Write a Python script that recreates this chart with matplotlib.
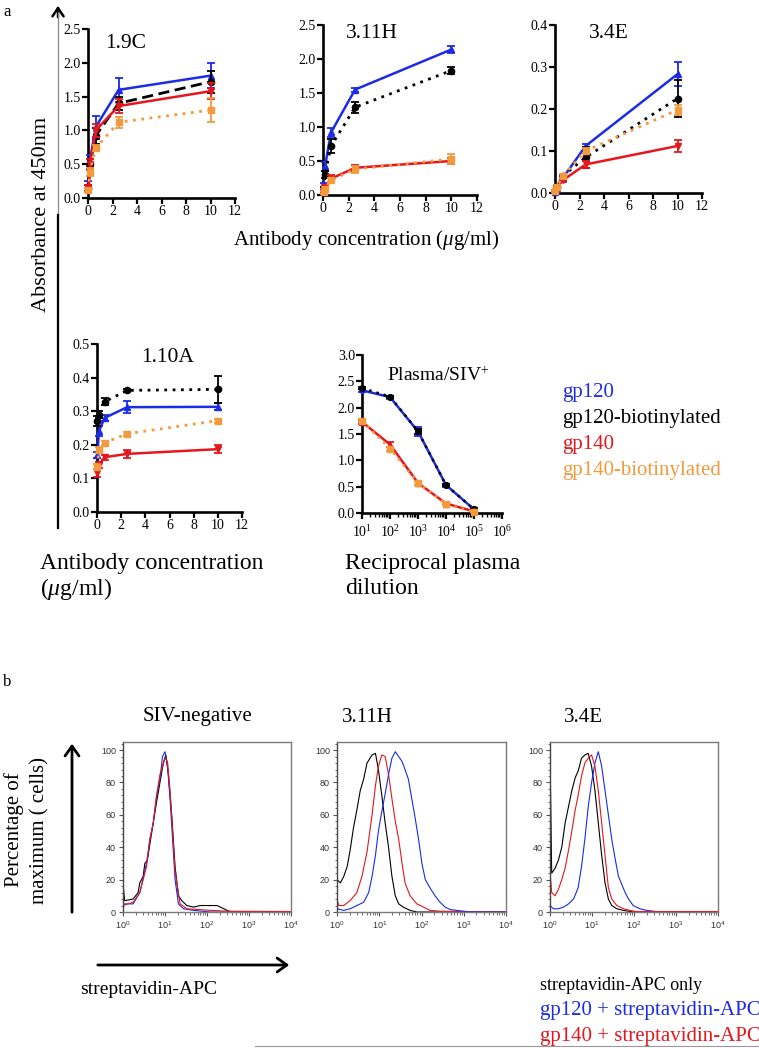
import numpy as np
import matplotlib
matplotlib.use("Agg")
import matplotlib.pyplot as plt
from matplotlib.patches import FancyArrowPatch
from matplotlib.lines import Line2D
from matplotlib.ticker import MultipleLocator, LogLocator, NullFormatter, FixedLocator

plt.rcParams['font.family'] = ['Liberation Serif', 'DejaVu Serif']
plt.rcParams['mathtext.fontset'] = 'custom'
plt.rcParams['mathtext.rm'] = 'Liberation Serif'
plt.rcParams['mathtext.it'] = 'Liberation Serif:italic'
plt.rcParams['mathtext.bf'] = 'Liberation Serif:bold'
plt.rcParams['mathtext.sf'] = 'Liberation Sans'

W, H = 759, 1048

# ---------------- data: panel a (ELISA) ----------------
conc = [0.039, 0.156, 0.625, 2.5, 10]
series_names = ["gp120", "gp120-biotinylated", "gp140", "gp140-biotinylated"]

c19_gp120 = [0.20, 0.55, 1.05, 1.60, 1.81]
c19_gp120_err = [0.05, 0.08, 0.17, 0.18, 0.19]
c19_gp120b = [0.15, 0.50, 0.92, 1.40, 1.72]
c19_gp120b_err = [0.04, 0.07, 0.12, 0.10, 0.16]
c19_gp140 = [0.15, 0.50, 1.00, 1.36, 1.58]
c19_gp140_err = [0.04, 0.08, 0.10, 0.10, 0.12]
c19_gp140b = [0.12, 0.38, 0.74, 1.12, 1.30]
c19_gp140b_err = [0.03, 0.06, 0.05, 0.08, 0.18]

h311_gp120 = [0.15, 0.42, 0.92, 1.55, 2.14]
h311_gp120_err = [0.03, 0.06, 0.07, 0.03, 0.05]
h311_gp120b = [0.10, 0.30, 0.72, 1.29, 1.83]
h311_gp120b_err = [0.02, 0.05, 0.10, 0.08, 0.05]
h311_gp140 = [0.05, 0.12, 0.24, 0.40, 0.50]
h311_gp140_err = [0.02, 0.03, 0.05, 0.04, 0.04]
h311_gp140b = [0.04, 0.09, 0.22, 0.38, 0.53]
h311_gp140b_err = [0.02, 0.03, 0.03, 0.05, 0.08]

e34_gp120 = [0.003, 0.010, 0.035, 0.112, 0.283]
e34_gp120_err = [0.002, 0.004, 0.006, 0.005, 0.028]
e34_gp120b = [0.004, 0.015, 0.040, 0.085, 0.225]
e34_gp120b_err = [0.002, 0.004, 0.005, 0.025, 0.045]
e34_gp140 = [0.004, 0.012, 0.030, 0.068, 0.112]
e34_gp140_err = [0.002, 0.003, 0.004, 0.008, 0.015]
e34_gp140b = [0.005, 0.015, 0.040, 0.100, 0.198]
e34_gp140b_err = [0.002, 0.003, 0.005, 0.008, 0.012]

a110_gp120 = [0.17, 0.24, 0.28, 0.312, 0.313]
a110_gp120_err = [0.010, 0.015, 0.008, 0.018, 0.010]
a110_gp120b = [0.27, 0.29, 0.328, 0.362, 0.365]
a110_gp120b_err = [0.015, 0.010, 0.010, 0.005, 0.040]
a110_gp140 = [0.115, 0.14, 0.163, 0.173, 0.187]
a110_gp140_err = [0.012, 0.010, 0.008, 0.012, 0.012]
a110_gp140b = [0.135, 0.185, 0.206, 0.233, 0.272]
a110_gp140b_err = [0.008, 0.008, 0.006, 0.006, 0.006]

dilution = [1e1, 1e2, 1e3, 1e4, 1e5]
pl_gp120 = [2.33, 2.20, 1.55, 0.53, 0.07]
pl_gp120_err = [0.03, 0.03, 0.08, 0.03, 0.02]
pl_gp120b = [2.37, 2.21, 1.55, 0.53, 0.07]
pl_gp120b_err = [0.02, 0.02, 0.05, 0.02, 0.01]
pl_gp140 = [1.73, 1.30, 0.57, 0.18, 0.03]
pl_gp140_err = [0.04, 0.05, 0.04, 0.03, 0.02]
pl_gp140b = [1.75, 1.22, 0.57, 0.17, 0.02]
pl_gp140b_err = [0.03, 0.04, 0.03, 0.02, 0.01]

# ---------------- data: panel b (flow histograms, log10 of fluorescence, % of max) ----------------
neg_black_log = [0, .04, .24, .36, .40, .48, .52, .58, .64, .72, .80, .88, .96, 1.02, 1.08, 1.16, 1.24, 1.32, 1.40, 1.52, 1.68, 1.84, 2.0, 2.24, 2.4, 2.56, 4.0]
neg_black_val = [17, 7, 8, 12, 18, 22, 30, 32, 42, 55, 68, 80, 92, 97, 85, 60, 28, 10, 7, 4, 3, 4, 4, 4, 2, 0, 0]
neg_blue_log = [0, .02, .24, .40, .56, .64, .72, .80, .88, .94, 1.0, 1.06, 1.12, 1.24, 1.32, 1.44, 1.68, 2.08, 4.0]
neg_blue_val = [0, 5, 5, 12, 30, 45, 55, 72, 82, 96, 99, 90, 70, 20, 5, 2, 1, 0, 0]
neg_red_log = [0, .24, .40, .56, .64, .72, .80, .88, .94, 1.0, 1.06, 1.12, 1.24, 1.36, 1.52, 2.08, 2.48, 4.0]
neg_red_val = [4, 6, 12, 28, 45, 55, 72, 85, 90, 95, 93, 75, 25, 5, 2, 1, 0.5, 0.3]

h_black_log = [0, .08, .16, .24, .31, .39, .47, .55, .63, .71, .83, .91, .98, 1.06, 1.14, 1.22, 1.30, 1.38, 1.46, 1.57, 1.73, 1.89, 4.0]
h_black_val = [20, 18, 22, 28, 38, 52, 63, 75, 82, 92, 97, 98, 88, 72, 55, 40, 22, 10, 5, 3, 1, 0, 0]
h_red_log = [0, .04, .16, .31, .47, .59, .71, .83, .91, .98, 1.06, 1.14, 1.22, 1.30, 1.38, 1.46, 1.54, 1.61, 1.73, 1.89, 2.05, 2.20, 2.44, 4.0]
h_red_val = [8, 4, 4, 7, 12, 22, 37, 60, 78, 90, 97, 96, 85, 70, 56, 45, 30, 18, 10, 5, 3, 1, 0.5, 0]
h_blue_log = [0, .16, .31, .47, .63, .75, .83, .91, .98, 1.06, 1.14, 1.22, 1.30, 1.38, 1.46, 1.54, 1.61, 1.69, 1.77, 1.85, 1.93, 2.01, 2.09, 2.20, 2.32, 2.44, 2.56, 2.68, 2.83, 2.99, 3.15, 4.0]
h_blue_val = [2, 1, 2, 4, 6, 12, 22, 35, 50, 62, 73, 85, 95, 99, 96, 93, 88, 82, 70, 58, 45, 30, 20, 15, 10, 6, 3, 1.5, 1, 0.5, 0, 0]

e_black_log = [0, .04, .12, .20, .28, .36, .44, .52, .60, .67, .75, .83, .91, .99, 1.07, 1.15, 1.23, 1.31, 1.39, 1.47, 1.59, 1.75, 1.98, 4.0]
e_black_val = [100, 24, 27, 32, 40, 55, 65, 75, 83, 87, 95, 97, 98, 90, 75, 55, 35, 18, 8, 4, 2, 1, 0, 0]
e_red_log = [0, .04, .12, .20, .28, .36, .44, .52, .60, .67, .75, .83, .91, .99, 1.07, 1.15, 1.23, 1.31, 1.39, 1.47, 1.59, 1.75, 1.90, 2.06, 4.0]
e_red_val = [25, 12, 10, 14, 20, 27, 38, 50, 63, 72, 84, 92, 95, 97, 90, 75, 55, 35, 15, 8, 4, 2, 1, 0.3, 0.3]
e_blue_log = [0, .08, .20, .32, .44, .56, .67, .75, .83, .91, .99, 1.07, 1.15, 1.23, 1.31, 1.39, 1.47, 1.55, 1.63, 1.71, 1.79, 1.87, 1.98, 2.14, 2.30, 2.46, 2.62, 4.0]
e_blue_val = [4, 2, 2, 3, 5, 8, 15, 28, 45, 65, 80, 92, 99, 90, 75, 60, 45, 33, 22, 17, 12, 8, 4, 2, 1, 0.5, 0, 0]

hist_tick_labels = ['$\\mathsf{10^{0}}$', '$\\mathsf{10^{1}}$', '$\\mathsf{10^{2}}$',
                    '$\\mathsf{10^{3}}$', '$\\mathsf{10^{4}}$']

BLUE = '#1b2be6'
RED = '#e5161d'
ORANGE = '#f29a3c'
BLACK = '#000000'

fig = plt.figure(figsize=(W / 100, H / 100), dpi=100)


def ax_px(x0, y_top, x1, y_bot):
    return fig.add_axes([x0 / W, 1 - y_bot / H, (x1 - x0) / W, (y_bot - y_top) / H])


def ftext(x, y, s, **kw):
    kw.setdefault('va', 'center')
    kw.setdefault('ha', 'left')
    return fig.text(x / W, 1 - y / H, s, **kw)


def fx(x):
    return x / W


def fy(y):
    return 1 - y / H


def style_elisa(ax, ylim, ystep, xlog=False):
    for s in ['top', 'right']:
        ax.spines[s].set_visible(False)
    for s in ['left', 'bottom']:
        ax.spines[s].set_linewidth(1.9)
    ax.tick_params(direction='out', width=1.6, length=4, labelsize=10, pad=1)
    ax.set_ylim(*ylim)
    ax.yaxis.set_major_locator(MultipleLocator(ystep))
    ax.yaxis.set_major_formatter(matplotlib.ticker.FormatStrFormatter('%.1f'))
    if not xlog:
        ax.set_xlim(0, 12)
        ax.xaxis.set_major_locator(MultipleLocator(2))


def draw_series(ax, x, ys, errs, black_ls=(0, (1, 2))):
    specs = [
        (BLUE, '^', '-', 1.8),
        (BLACK, 'o', black_ls, 2.0),
        (RED, 'v', '-', 1.8),
        (ORANGE, 's', (0, (1, 2)), 2.0),
    ]
    for i in [3, 1, 2, 0]:
        c, m, ls, lw = specs[i]
        ax.errorbar(x, ys[i], yerr=errs[i], color=c, marker=m, ls=ls, lw=lw, ms=4.5,
                    capsize=3, elinewidth=1.3, capthick=1.3, clip_on=False, zorder=3 + i)


# 1.9C
ax = ax_px(88, 29, 235, 198)
style_elisa(ax, (0, 2.5), 0.5)
draw_series(ax, conc, [c19_gp120, c19_gp120b, c19_gp140, c19_gp140b],
            [c19_gp120_err, c19_gp120b_err, c19_gp140_err, c19_gp140b_err], black_ls=(0, (4, 2)))

# 3.11H
ax = ax_px(323, 25, 477, 195)
style_elisa(ax, (0, 2.5), 0.5)
draw_series(ax, conc, [h311_gp120, h311_gp120b, h311_gp140, h311_gp140b],
            [h311_gp120_err, h311_gp120b_err, h311_gp140_err, h311_gp140b_err])

# 3.4E
ax = ax_px(555, 25, 702, 193)
style_elisa(ax, (0, 0.4), 0.1)
draw_series(ax, conc, [e34_gp120, e34_gp120b, e34_gp140, e34_gp140b],
            [e34_gp120_err, e34_gp120b_err, e34_gp140_err, e34_gp140b_err])

# 1.10A
ax = ax_px(97, 344, 242, 512)
style_elisa(ax, (0, 0.5), 0.1)
draw_series(ax, conc, [a110_gp120, a110_gp120b, a110_gp140, a110_gp140b],
            [a110_gp120_err, a110_gp120b_err, a110_gp140_err, a110_gp140b_err])

# Plasma
ax = ax_px(362, 355, 502, 513)
style_elisa(ax, (0, 3.0), 0.5, xlog=True)
ax.set_xscale('log')
ax.set_xlim(1e1, 1e6)
ax.xaxis.set_major_locator(LogLocator(base=10, numticks=10))
ax.xaxis.set_minor_locator(LogLocator(base=10, subs=np.arange(2, 10), numticks=20))
ax.xaxis.set_minor_formatter(NullFormatter())
ax.tick_params(axis='x', which='minor', direction='out', width=1.0, length=3)
ax.tick_params(axis='x', which='major', pad=4)
specs_pl = [(BLUE, 'o', '-'), (BLACK, 'o', (0, (1, 2))), (RED, '^', '-'), (ORANGE, 's', (0, (1, 2)))]
pl_y = [pl_gp120, pl_gp120b, pl_gp140, pl_gp140b]
pl_e = [pl_gp120_err, pl_gp120b_err, pl_gp140_err, pl_gp140b_err]
for i in [1, 0, 3, 2]:
    c, m, ls = specs_pl[i]
    ax.errorbar(dilution, pl_y[i], yerr=pl_e[i], color=c, marker=m, ls=ls, lw=1.8, ms=4,
                capsize=3, elinewidth=1.3, capthick=1.3, clip_on=False, zorder=3 + i)

# titles panel a
ftext(105, 44, "1.9C", fontsize=15.5)
ftext(346, 33, "3.11H", fontsize=15.5)
ftext(589, 33, "3.4E", fontsize=15.5)
ftext(141, 357, "1.10A", fontsize=15.5)
ftext(387, 376, "Plasma/SIV$^{+}$", fontsize=14)

# axis labels panel a
ftext(366, 240, "Antibody concentration ($\\mu$g/ml)", fontsize=15, ha='center')
ftext(42, 214, "Absorbance at 450nm", fontsize=16, ha='center', rotation=90)
ftext(40, 563, "Antibody concentration", fontsize=17)
ftext(40, 589, "($\\mu$g/ml)", fontsize=17)
ftext(345, 563, "Reciprocal plasma", fontsize=17)
ftext(345, 589, "dilution", fontsize=17)

# legend panel a
leg_colors = [BLUE, BLACK, RED, ORANGE]
for i, (name, c) in enumerate(zip(series_names, leg_colors)):
    ftext(562, 393 + 25.7 * i, name, fontsize=15, color=c)

ftext(3, 12, "a", fontsize=12)
ftext(3, 682, "b", fontsize=12)

# vertical arrow of panel a
fig.add_artist(Line2D([fx(58), fx(58)], [fy(12), fy(215)], color='#888888', lw=0.9, transform=fig.transFigure))
fig.add_artist(Line2D([fx(58), fx(58)], [fy(215), fy(528)], color='black', lw=1.6, transform=fig.transFigure))
fig.add_artist(FancyArrowPatch((fx(58), fy(20)), (fx(58), fy(3)), transform=fig.transFigure,
                               arrowstyle='->,head_length=6,head_width=4', color='black', lw=1.8,
                               mutation_scale=1))


# ---------------- panel b ----------------
def style_hist(ax):
    for s in ax.spines.values():
        s.set_color('#7a7a7a')
        s.set_linewidth(1.0)
    ax.spines['left'].set_color('#444444')
    ax.set_xscale('log')
    ax.set_xlim(1, 1e4)
    ax.set_ylim(0, 105)
    ax.yaxis.set_major_locator(FixedLocator([0, 20, 40, 60, 80, 100]))
    ax.yaxis.set_minor_locator(MultipleLocator(4))
    ax.xaxis.set_major_locator(FixedLocator([1, 10, 100, 1000, 10000]))
    ax.xaxis.set_major_formatter(matplotlib.ticker.FixedFormatter(hist_tick_labels))
    ax.xaxis.set_minor_locator(LogLocator(base=10, subs=np.arange(2, 10), numticks=20))
    ax.xaxis.set_minor_formatter(NullFormatter())
    ax.tick_params(which='major', direction='out', length=3, width=0.8, color='#555555',
                   labelsize=6.5, labelcolor='#333333', pad=2)
    ax.tick_params(which='minor', direction='out', length=1.8, width=0.6, color='#555555')
    for lab in ax.get_yticklabels():
        lab.set_family(['Liberation Sans', 'DejaVu Sans'])


hist_sets = [
    (123, 291, [(neg_black_log, neg_black_val, 'black'), (neg_blue_log, neg_blue_val, BLUE), (neg_red_log, neg_red_val, RED)]),
    (337, 506, [(h_black_log, h_black_val, 'black'), (h_red_log, h_red_val, RED), (h_blue_log, h_blue_val, BLUE)]),
    (550, 718, [(e_black_log, e_black_val, 'black'), (e_blue_log, e_blue_val, BLUE), (e_red_log, e_red_val, RED)]),
]
for x0, x1, curves in hist_sets:
    ax = ax_px(x0, 742, x1, 912)
    style_hist(ax)
    for lg, val, c in curves:
        ax.plot(10 ** np.asarray(lg), val, color=c, lw=0.8)

ftext(198, 717, "SIV-negative", fontsize=15, ha='center')
ftext(367, 717, "3.11H", fontsize=15, ha='center')
ftext(583, 717, "3.4E", fontsize=15, ha='center')

ftext(14, 830, "Percentage of", fontsize=15, ha='center', rotation=90)
ftext(40, 830, "maximum ( cells)", fontsize=15, ha='center', rotation=90)

fig.add_artist(FancyArrowPatch((fx(72), fy(915)), (fx(72), fy(741)), transform=fig.transFigure,
                               arrowstyle='->,head_length=7,head_width=5', color='black', lw=2.0,
                               mutation_scale=1))
fig.add_artist(FancyArrowPatch((fx(95), fy(965)), (fx(292), fy(965)), transform=fig.transFigure,
                               arrowstyle='->,head_length=7,head_width=5', color='black', lw=2.0,
                               mutation_scale=1))
ftext(80, 990, "streptavidin-APC", fontsize=14)

ftext(540, 985, "streptavidin-APC only", fontsize=13, color='black')
ftext(540, 1011, "gp120 + streptavidin-APC", fontsize=15, color=BLUE)
ftext(540, 1036, "gp140 + streptavidin-APC", fontsize=15, color=RED)
fig.add_artist(Line2D([fx(255), fx(759)], [fy(1046), fy(1046)], color='#999999', lw=0.8, transform=fig.transFigure))

fig.savefig("out.png", dpi=100)
